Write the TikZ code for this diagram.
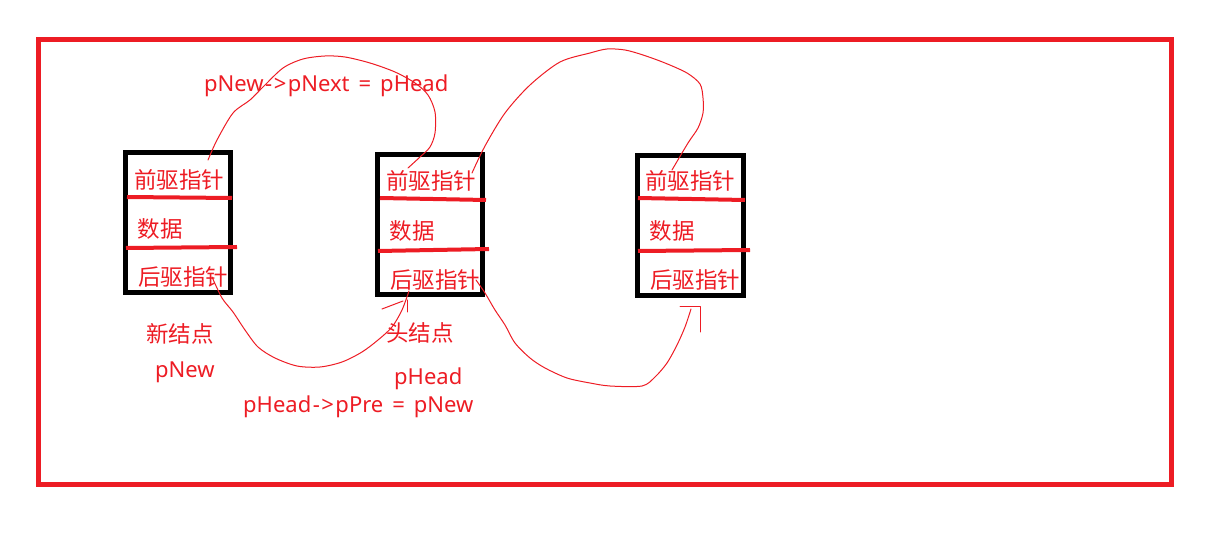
\documentclass[tikz,border=0pt]{standalone}
\usepackage{fontspec}
\setmainfont{Noto Sans}
\newfontfamily\cjk{Noto Sans CJK SC}
\definecolor{pred}{RGB}{237,28,36}
\newcommand{\arr}{\kern1.5pt-\kern1.5pt>\kern1.5pt}
\newcommand{\eqs}{\hspace{9pt}=\hspace{9pt}}
\begin{document}
\begin{tikzpicture}[x=1pt,y=-1pt,
  box/.style={draw=black,line width=5pt,minimum width=105pt,minimum height=140pt,inner sep=0pt},
  sep/.style={draw=pred,line width=4pt},
  cn/.style={text=pred,font=\cjk\fontsize{22.5}{26}\selectfont,inner sep=0pt},
  lt/.style={text=pred,font=\fontsize{22}{26}\selectfont,inner sep=0pt,anchor=base west},
  hand/.style={draw=pred,line width=1pt,line join=round,line cap=round}]
\useasboundingbox (0,0) rectangle (1220,534);
% frame
\node[draw=pred,line width=5pt,minimum width=1133pt,minimum height=445pt,inner sep=0pt] (frame) at (605,262) {};
% boxes
\node[box] (b1) at (177.5,223) {};
\node[box] (b2) at (430,224.5) {};
\node[box,minimum width=106pt] (b3) at (690,225.5) {};
% separators
\draw[sep] (127,197) -- (232,198);
\draw[sep] (126,248) -- (237,247);
\draw[sep] (380,198) -- (486,200);
\draw[sep] (378,251) -- (489,249);
\draw[sep] (638,198) -- (745,200);
\draw[sep] (638,251) -- (750,250);
% box texts
\node[cn] (p1) at (179,180) {前驱指针};
\node[cn] (d1) at (160,229) {数据};
\node[cn] (n1) at (183,277) {后驱指针};
\node[cn] (p2) at (431,181) {前驱指针};
\node[cn] (d2) at (412,231) {数据};
\node[cn] (n2) at (435,280) {后驱指针};
\node[cn] (p3) at (690,181) {前驱指针};
\node[cn] (d3) at (672,231) {数据};
\node[cn] (n3) at (695,280) {后驱指针};
% labels
\node[cn] (lnew) at (180,334) {新结点};
\node[lt] (lpnew) at (155,377) {pNew};
\node[cn] (lhead) at (420,333) {头结点};
\node[lt] (lphead) at (394,384) {pHead};
\node[lt] (lnext) at (204,92) {pNew\arr pNext\eqs pHead};
\node[lt] (lpre) at (243,412) {pHead\arr pPre\eqs pNew};
% curve A: new node front -> head
\coordinate (a0) at (208,160);
\coordinate (a1) at (408,168);
\draw[hand] plot[smooth,tension=0.5] coordinates {(a0) (217,140) (233,113) (250,100) (263,87) (283,68) (303,59) (325,56) (345,57) (370,63) (395,72) (415,83) (428,95) (435,112) (435,133) (430,147) (420,157) (a1)};
% curve B: head front -> third
\coordinate (b0) at (472,173);
\coordinate (b1e) at (672,170);
\draw[hand] plot[smooth,tension=0.5] coordinates {(b0) (485,146) (505,113) (530,85) (560,62) (590,53) (607,49) (625,50) (643,55) (665,63) (687,73) (700,84) (703,98) (703,113) (698,128) (688,143) (b1e)};
% curve C: new node next -> head
\coordinate (c0) at (212,277);
\coordinate (c1) at (409,291);
\draw[hand] plot[smooth,tension=0.5] coordinates {(c0) (222,298) (233,312) (245,330) (258,347) (275,358) (297,366) (320,367) (342,362) (362,352) (378,340) (392,327) (402,310) (c1)};
\coordinate (ca1) at (382,309);
\coordinate (ca2) at (403,301);
\coordinate (ca3) at (407,300);
\coordinate (ca4) at (407,312);
\draw[hand] (ca1) -- (ca2);
\draw[hand] (ca3) -- (ca4);
% curve D: head next -> third (bottom)
\coordinate (d0) at (476,280);
\coordinate (d1e) at (691,309);
\draw[hand] plot[smooth,tension=0.5] coordinates {(d0) (485,293) (495,310) (505,325) (515,343) (530,358) (545,368) (567,378) (590,383) (610,386) (642,386) (655,377) (667,363) (677,345) (685,327) (d1e)};
\coordinate (da1) at (680,307);
\coordinate (da2) at (700,307);
\coordinate (da3) at (700,332);
\draw[hand] (da1) -- (da2) -- (da3);
\end{tikzpicture}
\end{document}
